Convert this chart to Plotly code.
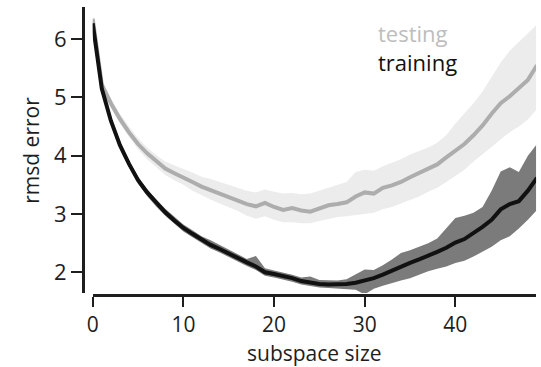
import plotly.graph_objects as go

subspace = list(range(50))

testing_mean = [6.35, 5.22, 4.90, 4.63, 4.40, 4.20, 4.04, 3.90, 3.78, 3.70,
                3.63, 3.55, 3.47, 3.41, 3.36, 3.30, 3.24, 3.17, 3.13, 3.19,
                3.12, 3.07, 3.10, 3.06, 3.04, 3.10, 3.15, 3.17, 3.20, 3.30,
                3.37, 3.35, 3.45, 3.49, 3.55, 3.63, 3.70, 3.78, 3.85, 3.97,
                4.08, 4.20, 4.35, 4.52, 4.72, 4.90, 5.02, 5.15, 5.30, 5.55]
testing_upper = [6.45, 5.30, 4.98, 4.72, 4.50, 4.30, 4.14, 4.01, 3.90, 3.83,
                 3.77, 3.71, 3.64, 3.60, 3.55, 3.50, 3.45, 3.40, 3.37, 3.42,
                 3.38, 3.35, 3.36, 3.34, 3.35, 3.40, 3.45, 3.50, 3.55, 3.72,
                 3.76, 3.74, 3.82, 3.88, 3.94, 4.02, 4.08, 4.14, 4.22, 4.35,
                 4.55, 4.72, 4.90, 5.10, 5.35, 5.60, 5.80, 5.95, 6.10, 6.25]
testing_lower = [6.28, 5.15, 4.82, 4.55, 4.32, 4.11, 3.94, 3.80, 3.67, 3.58,
                 3.50, 3.40, 3.32, 3.25, 3.18, 3.12, 3.05, 2.97, 2.92, 2.96,
                 2.90, 2.86, 2.86, 2.84, 2.84, 2.88, 2.92, 2.95, 2.96, 2.98,
                 3.00, 3.02, 3.08, 3.12, 3.18, 3.24, 3.30, 3.38, 3.45, 3.55,
                 3.65, 3.76, 3.90, 4.02, 4.15, 4.28, 4.40, 4.50, 4.62, 4.80]

training_mean = [6.27, 5.15, 4.60, 4.18, 3.86, 3.58, 3.37, 3.19, 3.03, 2.89,
                 2.76, 2.66, 2.56, 2.47, 2.40, 2.32, 2.24, 2.17, 2.10, 2.00,
                 1.97, 1.94, 1.90, 1.85, 1.82, 1.80, 1.79, 1.79, 1.80, 1.82,
                 1.86, 1.90, 1.96, 2.03, 2.10, 2.16, 2.22, 2.28, 2.35, 2.42,
                 2.51, 2.57, 2.67, 2.78, 2.90, 3.08, 3.17, 3.22, 3.40, 3.62]
training_upper = [6.33, 5.21, 4.66, 4.24, 3.92, 3.64, 3.43, 3.25, 3.09, 2.95,
                  2.82, 2.72, 2.62, 2.55, 2.47, 2.38, 2.30, 2.23, 2.28, 2.07,
                  2.03, 2.00, 1.96, 1.91, 1.93, 1.87, 1.86, 1.86, 1.88, 1.96,
                  2.05, 2.04, 2.12, 2.22, 2.33, 2.38, 2.44, 2.50, 2.58, 2.75,
                  2.93, 2.97, 3.02, 3.12, 3.40, 3.73, 3.80, 3.72, 4.00, 4.20]
training_lower = [6.21, 5.09, 4.54, 4.12, 3.80, 3.52, 3.31, 3.13, 2.97, 2.83,
                  2.70, 2.60, 2.50, 2.41, 2.34, 2.26, 2.18, 2.11, 2.04, 1.94,
                  1.91, 1.88, 1.84, 1.79, 1.76, 1.74, 1.73, 1.72, 1.72, 1.70,
                  1.62, 1.72, 1.77, 1.82, 1.86, 1.90, 1.96, 2.02, 2.06, 2.10,
                  2.16, 2.20, 2.27, 2.36, 2.44, 2.55, 2.62, 2.75, 2.90, 3.07]

x_ticks = [0, 10, 20, 30, 40]
y_ticks = [2, 3, 4, 5, 6]

W, H = 541, 367
FONT = "Open Sans"
TXT = "#1e1e1e"


def px(v):
    return v / W


def py(v):
    return (H - v) / H


fig = go.Figure()

# testing band + line
fig.add_trace(go.Scatter(x=subspace, y=testing_upper, mode="lines",
                         line=dict(width=0), hoverinfo="skip", showlegend=False))
fig.add_trace(go.Scatter(x=subspace, y=testing_lower, mode="lines",
                         line=dict(width=0), fill="tonexty",
                         fillcolor="#ececec", hoverinfo="skip", showlegend=False))
fig.add_trace(go.Scatter(x=subspace, y=testing_mean, mode="lines",
                         line=dict(color="#adadad", width=4), showlegend=False))
# training band + line
fig.add_trace(go.Scatter(x=subspace, y=training_upper, mode="lines",
                         line=dict(width=0), hoverinfo="skip", showlegend=False))
fig.add_trace(go.Scatter(x=subspace, y=training_lower, mode="lines",
                         line=dict(width=0), fill="tonexty",
                         fillcolor="#7b7b7b", hoverinfo="skip", showlegend=False))
fig.add_trace(go.Scatter(x=subspace, y=training_mean, mode="lines",
                         line=dict(color="#111111", width=4), showlegend=False))

fig.update_layout(
    width=W, height=H,
    margin=dict(l=0, r=0, t=0, b=0),
    paper_bgcolor="white", plot_bgcolor="white",
    font=dict(family=FONT, color=TXT, size=21),
    xaxis=dict(
        domain=[px(87.7), px(536)], range=[0, 48.9],
        anchor="free", position=py(295),
        tickvals=x_ticks, ticks="outside", ticklen=10, tickwidth=2.2,
        tickcolor="#1e1e1e", showline=True, linecolor="#1e1e1e", linewidth=2.5,
        showgrid=False, zeroline=False, tickfont=dict(size=21, family=FONT, color=TXT),
    ),
    yaxis=dict(
        domain=[py(293), py(7)], range=[1.645, 6.55],
        anchor="free", position=px(77.7),
        tickvals=y_ticks, ticks="outside", ticklen=11, tickwidth=2.2,
        tickcolor="#1e1e1e", showline=True, linecolor="#1e1e1e", linewidth=2.5,
        showgrid=False, zeroline=False, tickfont=dict(size=22, family=FONT, color=TXT),
    ),
    annotations=[
        dict(text="rmsd error", x=px(25), y=py(150), xref="paper", yref="paper",
             textangle=-90, showarrow=False, xanchor="center", yanchor="middle",
             font=dict(size=21, family=FONT, color=TXT)),
        dict(text="subspace size", x=px(312), y=py(353), xref="paper", yref="paper",
             showarrow=False, xanchor="center", yanchor="middle",
             font=dict(size=21, family=FONT, color=TXT)),
        dict(text="<span style='color:#bdbdbd'>testing</span><br>training",
             x=px(374), y=py(47), xref="paper", yref="paper", align="left",
             showarrow=False, xanchor="left", yanchor="middle",
             font=dict(size=22, family=FONT, color="#111111")),
    ],
)

fig.write_html("out.html")
